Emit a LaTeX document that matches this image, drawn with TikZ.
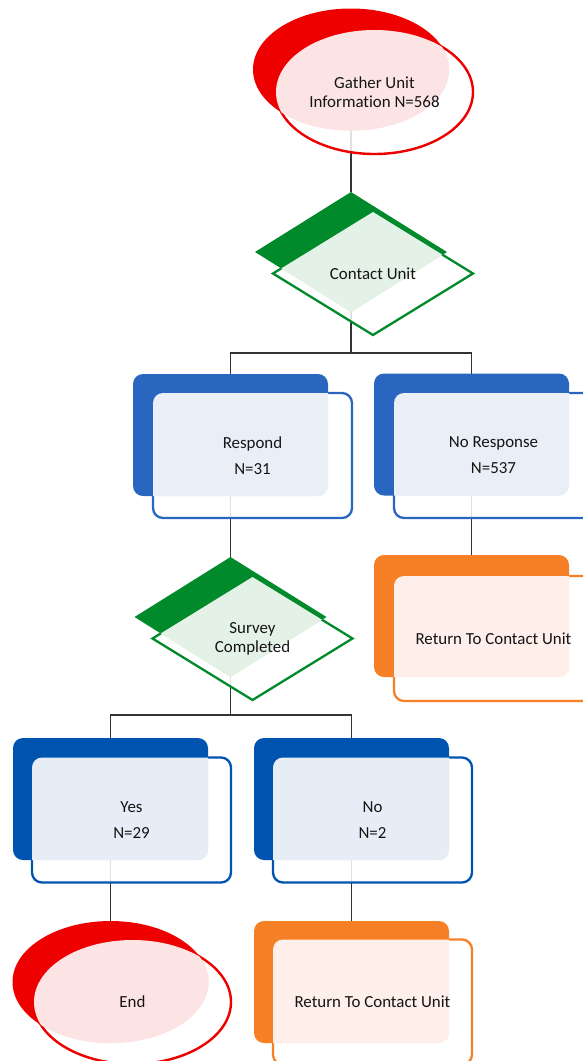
\documentclass[tikz,border=0pt]{standalone}
\usepackage{fontspec}
\setmainfont{Carlito}[Ligatures={NoCommon,NoDiscretionary,NoContextual}]
\usetikzlibrary{shapes.geometric}
\definecolor{redD}{HTML}{EE0000}
\definecolor{redL}{HTML}{FDE4E4}
\definecolor{grnD}{HTML}{008A2B}
\definecolor{grnL}{HTML}{E3F1E7}
\definecolor{bluA}{HTML}{2966BF}
\definecolor{bluAL}{HTML}{EAEFF7}
\definecolor{bluB}{HTML}{0054B0}
\definecolor{bluBL}{HTML}{E6EDF6}
\definecolor{orgD}{HTML}{F58025}
\definecolor{orgL}{HTML}{FEEFEA}
\definecolor{txt}{HTML}{141414}
\pgfdeclarelayer{bg}
\pgfsetlayers{bg,main}
\newcommand\mkbox[8]{%
  \node[boxback, fill=#6] (#1-b) at (#2,#3) {};
  \node[boxfront, draw=#6] (#1) at (#4,#5) {};
  \begin{scope}
    \clip[rounded corners=10pt] (#1-b.north west) rectangle (#1-b.south east);
    \fill[#7, rounded corners=10pt] (#1.north west) rectangle (#1.south east);
  \end{scope}
  \node[boxtext] (#1-t) at (#1.center) {#8};
}
\newcommand\mkell[8]{%
  \node[ellback, fill=#6] (#1-b) at (#2,#3) {};
  \node[ellfront, draw=#6] (#1) at (#4,#5) {};
  \begin{scope}
    \clip (#1-b.center) ellipse [x radius=98pt, y radius=61pt];
    \fill[#7] (#1.center) ellipse [x radius=98.5pt, y radius=62pt];
  \end{scope}
  \node[shtext] (#1-t) at (#1.center) {#8};
}
\newcommand\mkdia[8]{%
  \node[diaback, fill=#6] (#1-b) at (#2,#3) {};
  \node[diafront, draw=#6] (#1) at (#4,#5) {};
  \begin{scope}
    \clip (#1-b.north) -- (#1-b.east) -- (#1-b.south) -- (#1-b.west) -- cycle;
    \fill[#7] (#1.north) -- (#1.east) -- (#1.south) -- (#1.west) -- cycle;
  \end{scope}
  \node[shtext] (#1-t) at (#1.center) {#8};
}
\begin{document}
\begin{tikzpicture}[x=1pt,y=-1pt,
  conn/.style={draw=black!80, line width=1.3pt},
  boxback/.style={rectangle, rounded corners=10pt, minimum width=195pt, minimum height=122pt, inner sep=0pt, outer sep=0pt},
  boxfront/.style={rectangle, rounded corners=10pt, minimum width=199pt, minimum height=125pt, inner sep=0pt, outer sep=0pt, fill=white, fill opacity=0.85, line width=2.3pt},
  ellback/.style={ellipse, minimum width=196pt, minimum height=122pt, inner sep=0pt, outer sep=0pt},
  ellfront/.style={ellipse, minimum width=197pt, minimum height=124pt, inner sep=0pt, outer sep=0pt, fill=white, fill opacity=0.85, line width=2.4pt},
  diaback/.style={diamond, minimum width=192pt, minimum height=120pt, inner sep=0pt, outer sep=0pt},
  diafront/.style={diamond, minimum width=200pt, minimum height=123pt, inner sep=0pt, outer sep=0pt, fill=white, fill opacity=0.85, line width=2.3pt},
  boxtext/.style={align=center, text=txt, inner sep=0pt, font=\fontsize{16.9}{26}\selectfont},
  shtext/.style={align=center, text=txt, inner sep=0pt, font=\fontsize{16.9}{19}\selectfont}
]
\useasboundingbox (0,0) rectangle (583,1061);
\clip (0,0) rectangle (583,1061);

\mkell{gather}{351}{69.5}{374.5}{92}{redD}{redL}{Gather Unit\\Information N=568}
\mkdia{contact}{351}{252}{373}{273.5}{grnD}{grnL}{Contact Unit}
\mkbox{respond}{230.5}{435}{252.5}{455.5}{bluA}{bluAL}{Respond\\N=31}
\mkbox{noresp}{471.5}{434.5}{493.5}{455.5}{bluA}{bluAL}{No Response\\N=537}
\mkbox{ret1}{471.5}{616}{493.5}{638.5}{orgD}{orgL}{Return To Contact Unit}
\mkdia{survey}{230.5}{617}{252.5}{638.5}{grnD}{grnL}{Survey\\Completed}
\mkbox{yes}{110.5}{799}{131.5}{820}{bluB}{bluBL}{Yes\\N=29}
\mkbox{no}{351.5}{799}{372.5}{820}{bluB}{bluBL}{No\\N=2}
\mkell{endn}{110.5}{982}{132.5}{1002}{redD}{redL}{End}
\mkbox{ret2}{351.5}{982}{372.5}{1002}{orgD}{orgL}{Return To Contact Unit}

\begin{pgfonlayer}{bg}
  \coordinate (j1) at (351,353);
  \coordinate (j2) at (230.5,715);
  \draw[conn] (gather-b.south) -- (contact-b.north);
  \draw[conn] (contact-b.south) -- (j1);
  \draw[conn] (respond-b.north) |- (j1) -| (noresp-b.north);
  \draw[conn] (respond-b.south) -- (survey-b.north);
  \draw[conn] (noresp-b.south) -- (ret1-b.north);
  \draw[conn] (survey-b.south) -- (j2);
  \draw[conn] (yes-b.north) |- (j2) -| (no-b.north);
  \draw[conn] (yes-b.south) -- (endn-b.north);
  \draw[conn] (no-b.south) -- (ret2-b.north);
\end{pgfonlayer}
\end{tikzpicture}
\end{document}
